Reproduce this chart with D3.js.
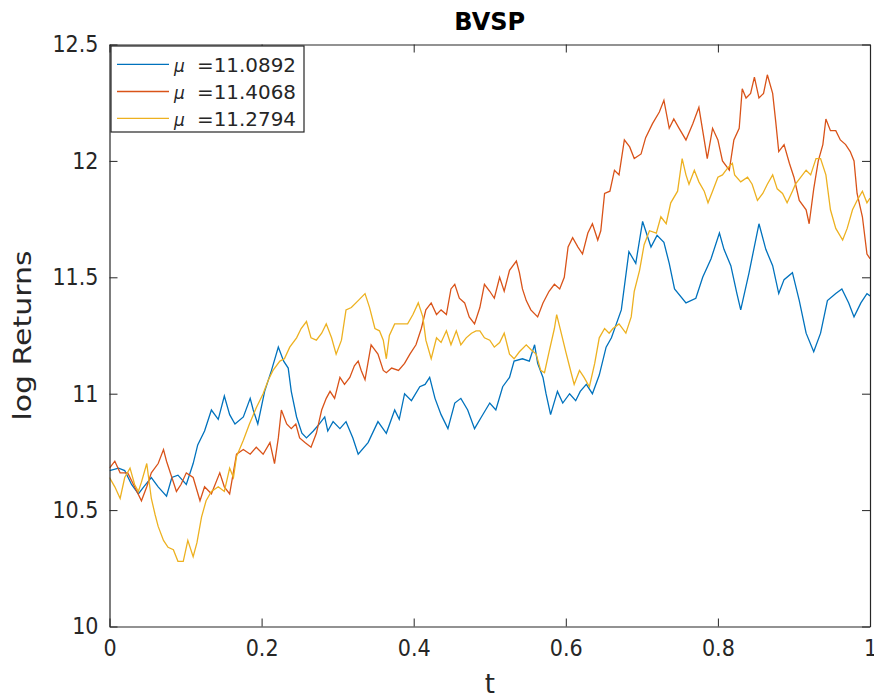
<!DOCTYPE html>
<html>
<head>
<meta charset="utf-8">
<script src="https://cdn.jsdelivr.net/npm/d3@7"></script>
<style>
  html, body { margin: 0; padding: 0; background: #ffffff; }
  svg { display: block; }
</style>
</head>
<body>
<svg id="chart" width="874" height="698"></svg>
<script>
// Simulated log-return paths for BVSP, one per estimated drift (t, value)
const pathMu1 = [
  [0.000,10.67],[0.012,10.68],[0.020,10.67],[0.029,10.61],[0.038,10.57],[0.045,10.60],[0.055,10.64],
  [0.064,10.60],[0.075,10.56],[0.082,10.64],[0.090,10.65],[0.101,10.61],[0.110,10.70],[0.116,10.78],
  [0.125,10.84],[0.134,10.93],[0.143,10.89],[0.151,10.99],[0.158,10.91],[0.165,10.87],[0.176,10.90],
  [0.185,10.98],[0.189,10.93],[0.195,10.87],[0.204,11.01],[0.213,11.10],[0.222,11.20],[0.229,11.14],
  [0.235,11.11],[0.239,11.01],[0.246,10.90],[0.253,10.83],[0.259,10.81],[0.268,10.84],[0.276,10.87],
  [0.283,10.90],[0.287,10.84],[0.294,10.88],[0.303,10.85],[0.311,10.88],[0.320,10.81],[0.327,10.74],
  [0.340,10.79],[0.353,10.88],[0.364,10.83],[0.375,10.93],[0.381,10.89],[0.388,11.00],[0.397,10.97],
  [0.408,11.03],[0.415,11.04],[0.421,11.07],[0.428,10.98],[0.436,10.91],[0.445,10.85],[0.454,10.96],
  [0.462,10.98],[0.471,10.93],[0.480,10.85],[0.489,10.90],[0.500,10.96],[0.508,10.93],[0.517,11.03],
  [0.526,11.07],[0.532,11.14],[0.543,11.15],[0.552,11.14],[0.559,11.21],[0.563,11.13],[0.570,11.07],
  [0.574,11.00],[0.580,10.91],[0.589,11.01],[0.596,10.96],[0.605,11.00],[0.613,10.97],[0.619,11.01],
  [0.627,11.04],[0.635,11.00],[0.644,11.08],[0.653,11.20],[0.660,11.24],[0.673,11.36],[0.683,11.61],
  [0.692,11.56],[0.701,11.74],[0.712,11.63],[0.720,11.68],[0.729,11.65],[0.736,11.56],[0.743,11.45],
  [0.758,11.39],[0.771,11.41],[0.780,11.50],[0.791,11.58],[0.802,11.69],[0.808,11.62],[0.817,11.55],
  [0.825,11.43],[0.830,11.36],[0.841,11.52],[0.854,11.73],[0.863,11.62],[0.872,11.55],[0.880,11.43],
  [0.887,11.49],[0.898,11.52],[0.907,11.40],[0.916,11.26],[0.926,11.18],[0.935,11.26],[0.944,11.40],
  [0.955,11.43],[0.963,11.45],[0.972,11.39],[0.979,11.33],[0.988,11.39],[0.996,11.43],[1.000,11.42]
];

const pathMu2 = [
  [0.000,10.68],[0.007,10.71],[0.014,10.66],[0.024,10.66],[0.033,10.60],[0.042,10.54],[0.049,10.60],
  [0.055,10.66],[0.064,10.70],[0.071,10.76],[0.075,10.71],[0.082,10.64],[0.088,10.58],[0.094,10.61],
  [0.101,10.66],[0.110,10.64],[0.119,10.54],[0.125,10.60],[0.134,10.57],[0.145,10.66],[0.151,10.60],
  [0.158,10.57],[0.167,10.74],[0.176,10.76],[0.185,10.74],[0.193,10.77],[0.202,10.74],[0.211,10.79],
  [0.217,10.70],[0.222,10.81],[0.226,10.93],[0.233,10.87],[0.239,10.85],[0.245,10.87],[0.250,10.81],
  [0.257,10.79],[0.265,10.77],[0.272,10.83],[0.279,10.93],[0.285,10.98],[0.290,11.01],[0.296,10.98],
  [0.303,11.07],[0.309,11.04],[0.316,11.07],[0.322,11.12],[0.327,11.14],[0.331,11.10],[0.336,11.06],
  [0.344,11.21],[0.353,11.17],[0.360,11.10],[0.364,11.09],[0.371,11.11],[0.380,11.10],[0.388,11.13],
  [0.395,11.17],[0.403,11.21],[0.410,11.28],[0.416,11.36],[0.423,11.39],[0.430,11.34],[0.436,11.36],
  [0.443,11.34],[0.449,11.45],[0.454,11.47],[0.460,11.41],[0.467,11.39],[0.473,11.33],[0.480,11.30],
  [0.487,11.37],[0.493,11.47],[0.500,11.44],[0.506,11.41],[0.513,11.50],[0.519,11.44],[0.526,11.53],
  [0.535,11.57],[0.539,11.52],[0.543,11.45],[0.548,11.40],[0.554,11.36],[0.563,11.33],[0.570,11.39],
  [0.578,11.44],[0.585,11.47],[0.592,11.45],[0.598,11.50],[0.603,11.63],[0.609,11.67],[0.616,11.63],
  [0.622,11.60],[0.629,11.69],[0.635,11.73],[0.642,11.66],[0.646,11.70],[0.651,11.86],[0.658,11.87],
  [0.664,11.96],[0.670,11.94],[0.677,12.09],[0.684,12.06],[0.690,12.01],[0.699,12.03],[0.705,12.10],
  [0.714,12.16],[0.723,12.21],[0.729,12.26],[0.736,12.14],[0.742,12.18],[0.749,12.14],[0.758,12.09],
  [0.767,12.16],[0.775,12.23],[0.782,12.09],[0.786,12.01],[0.793,12.14],[0.800,12.09],[0.806,12.00],
  [0.815,11.96],[0.821,12.09],[0.828,12.14],[0.832,12.31],[0.837,12.27],[0.843,12.29],[0.848,12.36],
  [0.854,12.27],[0.860,12.29],[0.865,12.37],[0.872,12.29],[0.876,12.17],[0.880,12.04],[0.887,12.07],
  [0.894,11.99],[0.900,11.93],[0.907,11.83],[0.916,11.79],[0.920,11.73],[0.926,11.88],[0.932,12.00],
  [0.938,12.07],[0.942,12.18],[0.948,12.13],[0.955,12.13],[0.961,12.09],[0.968,12.07],[0.974,12.04],
  [0.979,12.00],[0.983,11.86],[0.990,11.76],[0.996,11.60],[1.000,11.58]
];

const pathMu3 = [
  [0.000,10.64],[0.007,10.60],[0.014,10.55],[0.020,10.64],[0.027,10.68],[0.033,10.61],[0.038,10.58],
  [0.042,10.62],[0.049,10.70],[0.055,10.55],[0.060,10.48],[0.064,10.43],[0.071,10.37],[0.077,10.34],
  [0.084,10.33],[0.090,10.28],[0.097,10.28],[0.103,10.37],[0.110,10.30],[0.115,10.36],[0.121,10.47],
  [0.127,10.54],[0.134,10.58],[0.143,10.60],[0.151,10.58],[0.158,10.68],[0.163,10.64],[0.167,10.73],
  [0.176,10.80],[0.184,10.87],[0.193,10.94],[0.202,11.00],[0.209,11.06],[0.215,11.10],[0.224,11.14],
  [0.230,11.15],[0.237,11.20],[0.246,11.24],[0.252,11.28],[0.259,11.31],[0.265,11.24],[0.272,11.23],
  [0.279,11.26],[0.285,11.30],[0.292,11.24],[0.298,11.17],[0.305,11.23],[0.311,11.36],[0.318,11.37],
  [0.327,11.40],[0.336,11.43],[0.342,11.37],[0.349,11.28],[0.355,11.27],[0.360,11.23],[0.364,11.15],
  [0.368,11.25],[0.375,11.30],[0.384,11.30],[0.392,11.30],[0.399,11.34],[0.406,11.39],[0.412,11.33],
  [0.416,11.23],[0.423,11.15],[0.430,11.24],[0.436,11.22],[0.443,11.27],[0.449,11.21],[0.456,11.27],
  [0.462,11.21],[0.469,11.24],[0.476,11.26],[0.482,11.27],[0.487,11.27],[0.493,11.24],[0.500,11.23],
  [0.506,11.20],[0.513,11.22],[0.519,11.26],[0.526,11.17],[0.532,11.15],[0.539,11.18],[0.548,11.21],
  [0.554,11.19],[0.561,11.17],[0.567,11.10],[0.572,11.09],[0.578,11.18],[0.585,11.28],[0.588,11.34],
  [0.594,11.26],[0.600,11.18],[0.607,11.09],[0.611,11.04],[0.618,11.10],[0.624,11.07],[0.631,11.03],
  [0.638,11.13],[0.644,11.24],[0.651,11.28],[0.657,11.26],[0.662,11.28],[0.670,11.30],[0.679,11.26],
  [0.686,11.33],[0.690,11.44],[0.697,11.53],[0.703,11.64],[0.710,11.70],[0.719,11.69],[0.725,11.76],
  [0.732,11.73],[0.738,11.82],[0.747,11.87],[0.753,12.01],[0.758,11.94],[0.762,11.90],[0.769,11.96],
  [0.775,11.91],[0.782,11.87],[0.787,11.82],[0.793,11.87],[0.800,11.93],[0.806,11.94],[0.813,11.97],
  [0.819,11.99],[0.822,11.94],[0.830,11.91],[0.839,11.93],[0.845,11.90],[0.852,11.83],[0.859,11.86],
  [0.865,11.90],[0.872,11.94],[0.878,11.88],[0.885,11.86],[0.891,11.82],[0.898,11.87],[0.902,11.90],
  [0.909,11.93],[0.916,11.96],[0.922,11.94],[0.929,12.01],[0.935,12.01],[0.942,11.94],[0.948,11.79],
  [0.955,11.71],[0.964,11.66],[0.970,11.71],[0.977,11.79],[0.983,11.83],[0.990,11.87],[0.996,11.82],
  [1.000,11.84]
];

const legendLabels = ["=11.0892", "=11.4068", "=11.2794"];
const seriesColors = ["#0072BD", "#D95319", "#EDB120"];
const xTicks = [0, 0.2, 0.4, 0.6, 0.8, 1];
const yTicks = [10, 10.5, 11, 11.5, 12, 12.5];
const titleText = "BVSP";
const xLabelText = "t";
const yLabelText = "log Returns";

const svg = d3.select("#chart");
const axisColor = "#262626";
const tickFont = "'DejaVu Sans Condensed', 'DejaVu Sans', sans-serif";

const plotLeft = 109.5, plotRight = 870, plotTop = 44.5, plotBottom = 626.5;
const x = d3.scaleLinear().domain([0, 1]).range([plotLeft, plotRight]);
const y = d3.scaleLinear().domain([10, 12.5]).range([plotBottom, plotTop]);

// Clip the paths to the plot box
svg.append("defs").append("clipPath").attr("id", "plotClip")
  .append("rect").attr("x", plotLeft).attr("y", plotTop)
  .attr("width", plotRight - plotLeft).attr("height", plotBottom - plotTop);

const line = d3.line().x(d => x(d[0])).y(d => y(d[1]));

const gLines = svg.append("g").attr("clip-path", "url(#plotClip)");
[pathMu1, pathMu2, pathMu3].forEach((data, i) => {
  gLines.append("path")
    .datum(data)
    .attr("d", line)
    .attr("fill", "none")
    .attr("stroke", seriesColors[i])
    .attr("stroke-width", 1.3)
    .attr("stroke-linejoin", "miter");
});

// Axes with inward ticks on all four sides
function styleAxis(g) {
  g.selectAll("path.domain").attr("stroke", axisColor).attr("stroke-width", 1.2);
  g.selectAll(".tick line").attr("stroke", axisColor).attr("stroke-width", 1);
  g.selectAll(".tick text")
    .attr("fill", axisColor)
    .style("font-family", tickFont)
    .style("font-stretch", "condensed")
    .style("font-size", "23px");
}

const fmt = d => String(d);

svg.append("g")
  .attr("transform", `translate(0,${plotBottom})`)
  .call(d3.axisBottom(x).tickValues(xTicks).tickFormat(fmt).tickSizeInner(-8).tickSizeOuter(0).tickPadding(13))
  .call(styleAxis);

svg.append("g")
  .attr("transform", `translate(0,${plotTop})`)
  .call(d3.axisTop(x).tickValues(xTicks).tickFormat("").tickSizeInner(-8).tickSizeOuter(0))
  .call(styleAxis);

svg.append("g")
  .attr("transform", `translate(${plotLeft},0)`)
  .call(d3.axisLeft(y).tickValues(yTicks).tickFormat(fmt).tickSizeInner(-8).tickSizeOuter(0).tickPadding(11))
  .call(styleAxis);

svg.append("g")
  .attr("transform", `translate(${plotRight},0)`)
  .call(d3.axisRight(y).tickValues(yTicks).tickFormat("").tickSizeInner(-8).tickSizeOuter(0))
  .call(styleAxis);

// Title and axis labels
svg.append("text")
  .attr("x", (plotLeft + plotRight) / 2).attr("y", 30)
  .attr("text-anchor", "middle")
  .attr("fill", "#000")
  .style("font-family", "'DejaVu Sans', sans-serif")
  .style("font-weight", "bold")
  .style("font-size", "24px")
  .text(titleText);

svg.append("text")
  .attr("x", (plotLeft + plotRight) / 2).attr("y", 693)
  .attr("text-anchor", "middle")
  .attr("fill", axisColor)
  .style("font-family", "'DejaVu Sans', sans-serif")
  .style("font-size", "26px")
  .text(xLabelText);

svg.append("text")
  .attr("transform", `translate(31,${(plotTop + plotBottom) / 2}) rotate(-90)`)
  .attr("text-anchor", "middle")
  .attr("fill", axisColor)
  .attr("textLength", 170)
  .attr("lengthAdjust", "spacingAndGlyphs")
  .style("font-family", "'DejaVu Sans', sans-serif")
  .style("font-size", "25px")
  .text(yLabelText);

// Legend
const legend = svg.append("g");
legend.append("rect")
  .attr("x", 111).attr("y", 46).attr("width", 193).attr("height", 86)
  .attr("fill", "#ffffff").attr("stroke", axisColor).attr("stroke-width", 1.2);

const rowY = [64.3, 91.5, 118.3];
legendLabels.forEach((lab, i) => {
  legend.append("line")
    .attr("x1", 117).attr("x2", 169)
    .attr("y1", rowY[i]).attr("y2", rowY[i])
    .attr("stroke", seriesColors[i]).attr("stroke-width", 1.3);
  legend.append("text")
    .attr("x", 174).attr("y", rowY[i] + 7.4)
    .attr("fill", axisColor)
    .style("font-family", "'DejaVu Sans', sans-serif")
    .style("font-style", "italic")
    .style("font-size", "17px")
    .text("\u03bc");
  legend.append("text")
    .attr("x", 197).attr("y", rowY[i] + 7.4)
    .attr("fill", axisColor)
    .attr("textLength", 99)
    .attr("lengthAdjust", "spacingAndGlyphs")
    .style("font-family", "'DejaVu Sans', sans-serif")
    .style("font-size", "19px")
    .text(lab);
});
</script>
</body>
</html>
